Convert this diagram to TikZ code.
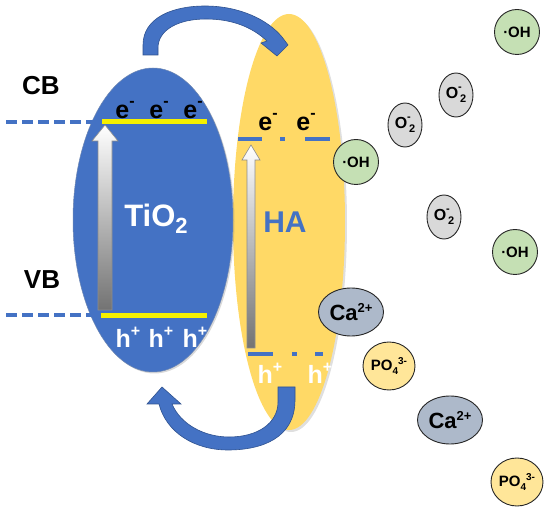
\documentclass[tikz,border=0pt]{standalone}
\usepackage{fontspec}
\setmainfont{Liberation Sans}
\usetikzlibrary{shapes.geometric,shadows}
\definecolor{tiblue}{HTML}{4472C4}
\definecolor{tiedge}{HTML}{2F528F}
\definecolor{hayel}{HTML}{FFD966}
\definecolor{harim}{HTML}{EDBE45}
\definecolor{barcol}{HTML}{F5F000}
\definecolor{ohgreen}{HTML}{C5E0B4}
\definecolor{ogray}{HTML}{D9D9D9}
\definecolor{cablue}{HTML}{ADB9CA}
\definecolor{poyel}{HTML}{FFE699}
\pgfdeclareradialshading{harimshade}{\pgfpointorigin}{color(0bp)=(hayel);color(46bp)=(hayel);color(50bp)=(harim)}
\newcommand\fsz[1]{\fontsize{#1}{#1}\selectfont}
\newcommand\otwo{O\rlap{\raisebox{.45em}{\fsz{11}-}}\raisebox{-.3em}{\fsz{11}\,2}}
\newcommand\elec{e\raisebox{.45em}{\fsz{16}-}}
\newcommand\hole{h\raisebox{.45em}{\fsz{16}+}}
\begin{document}
\begin{tikzpicture}[x=1pt,y=-1pt,
  species/.style={ellipse, draw=black!85, line width=0.9pt, inner sep=0pt, font=\bfseries\fsz{15}},
  ohsp/.style={species, fill=ohgreen, minimum width=45pt, minimum height=45pt},
  osp/.style={species, fill=ogray, minimum width=34pt, minimum height=44pt, font=\bfseries\fsz{16}},
  casp/.style={species, fill=cablue, minimum width=65pt, minimum height=48pt, font=\bfseries\fsz{22}},
  posp/.style={species, fill=poyel, minimum width=52pt, minimum height=48pt},
  band/.style={tiblue, line width=3.5pt, dash pattern=on 11pt off 5pt},
  level/.style={barcol, line width=5pt},
  halevel/.style={tiblue, line width=4pt},
  excite/.style={top color=white, bottom color=black!55, draw=black!45, line width=0.6pt},
  curved/.style={fill=tiblue, draw=tiedge, line width=0.6pt},
  bandlabel/.style={font=\bfseries\fsz{26}},
  elab/.style={font=\bfseries\fsz{25}, inner sep=0pt},
  hlab/.style={font=\bfseries\fsz{25}, text=white, inner sep=0pt}]
\useasboundingbox (0,0) rectangle (550,513);

% HA particle
\node[ellipse, minimum width=112pt, minimum height=416pt, inner sep=0pt,
      shading=harimshade, drop shadow={opacity=0.25, shadow xshift=2pt, shadow yshift=-2pt}] (ha) at (289,222) {};
% TiO2 particle
\node[ellipse, minimum width=160pt, minimum height=304pt, inner sep=0pt, fill=tiblue,
      draw=tiedge!70, line width=0.5pt,
      drop shadow={opacity=0.3, shadow xshift=1.5pt, shadow yshift=-1.5pt}] (tio) at (153,220) {};

% band labels
\node[bandlabel] (cb) at (41,86) {CB};
\node[bandlabel] (vb) at (42,280) {VB};

% band edges
\coordinate (cbl) at (6,122); \coordinate (cbr) at (97,122);
\coordinate (vbl) at (6,315); \coordinate (vbr) at (95,315);
\draw[band] (cbl) -- (cbr);
\draw[band] (vbl) -- (vbr);
\coordinate (cbya) at (102,122); \coordinate (cbyb) at (207,122);
\coordinate (vbya) at (101,316); \coordinate (vbyb) at (207,316);
\draw[level] (cbya) -- (cbyb);
\draw[level] (vbya) -- (vbyb);

% HA levels
\coordinate (h1a) at (238,139); \coordinate (h1b) at (262,139);
\coordinate (h2a) at (280,139); \coordinate (h2b) at (285,139);
\coordinate (h3a) at (305,139); \coordinate (h3b) at (330,139);
\draw[halevel] (h1a) -- (h1b); \draw[halevel] (h2a) -- (h2b); \draw[halevel] (h3a) -- (h3b);
\coordinate (l1a) at (248,354); \coordinate (l1b) at (273,354);
\coordinate (l2a) at (292,354); \coordinate (l2b) at (297,354);
\coordinate (l3a) at (315,354); \coordinate (l3b) at (323,354);
\draw[halevel] (l1a) -- (l1b); \draw[halevel] (l2a) -- (l2b); \draw[halevel] (l3a) -- (l3b);

% excitation arrows
\shade[excite] (98,310) -- (98,141) -- (92,141) -- (105,125) -- (118,141) -- (112,141) -- (112,310) -- cycle;
\shade[excite] (247,348) -- (247,160) -- (242,160) -- (251,145) -- (260,160) -- (255,160) -- (255,348) -- cycle;

% electrons and holes
\node[elab] (e1) at (125,110) {\elec};
\node[elab] (e2) at (159,110) {\elec};
\node[elab] (e3) at (193,110) {\elec};
\node[hlab] (p1) at (128,337) {\hole};
\node[hlab] (p2) at (161,337) {\hole};
\node[hlab] (p3) at (195,337) {\hole};
\node[elab] (e4) at (268,122) {\elec};
\node[elab] (e5) at (306,122) {\elec};
\node[hlab] (p4) at (270,373) {\hole};
\node[hlab] (p5) at (320,373) {\hole};

% particle names
\node[anchor=base, text=white, font=\bfseries\fsz{31}, inner sep=0pt] (tiname) at (156,227) {TiO{\fsz{22}\raisebox{-7pt}{2}}};
\node[anchor=base, text=tiblue, font=\bfseries\fsz{30}, inner sep=0pt] (haname) at (285,233) {HA};

% electron transfer arrow (top)
\fill[curved] (143,55) -- (143,45) .. controls (143,18) and (172,6) .. (205,6)
  .. controls (240,6) and (268,20) .. (282,37) -- (288,45) -- (277,56) -- (261,43) -- (267,41)
  .. controls (252,27) and (232,19) .. (206,19)
  .. controls (178,19) and (158,30) .. (158,48) -- (158,55) -- cycle;
% hole transfer arrow (bottom)
\fill[curved] (295,387) -- (295,400) .. controls (295,438) and (262,450) .. (228,450)
  .. controls (194,450) and (166,432) .. (159,404) -- (147,404) -- (162,387) -- (181,404) -- (172,404)
  .. controls (181,425) and (205,437) .. (229,437)
  .. controls (258,437) and (278,423) .. (278,402) -- (278,387) -- cycle;

% species
\node[ohsp] (oh1) at (517,32) {·OH};
\node[osp] (o1) at (456,95) {\otwo};
\node[osp] (o2) at (405,125) {\otwo};
\node[ohsp] (oh2) at (356,162) {·OH};
\node[osp] (o3) at (444,217) {\otwo};
\node[ohsp] (oh3) at (515,252) {·OH};
\node[casp] (ca1) at (351,312) {Ca\raisebox{.35em}{\fsz{13}2+}};
\node[posp] (po1) at (389,366) {PO\raisebox{-.25em}{\fsz{10}4}\raisebox{.45em}{\fsz{10}3-}};
\node[casp] (ca2) at (450,420) {Ca\raisebox{.35em}{\fsz{13}2+}};
\node[posp] (po2) at (517,482) {PO\raisebox{-.25em}{\fsz{10}4}\raisebox{.45em}{\fsz{10}3-}};
\end{tikzpicture}
\end{document}
